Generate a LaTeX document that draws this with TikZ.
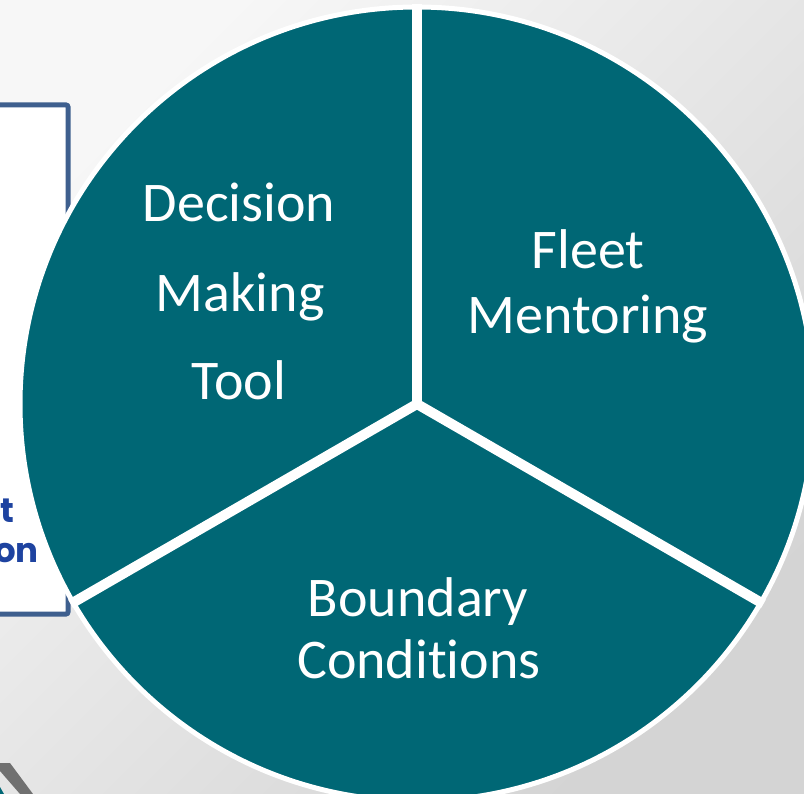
\documentclass[tikz,border=0pt]{standalone}
\usepackage{fontspec}
\usetikzlibrary{calc}
\setmainfont{Carlito}[Ligatures=NoCommon]
\newfontfamily\boxfont{Poppins}
\definecolor{pieteal}{HTML}{006775}
\definecolor{bglight}{HTML}{F7F7F7}
\definecolor{bgdark}{HTML}{D4D4D4}
\definecolor{boxedge}{HTML}{3E5F8E}
\definecolor{boxtext}{HTML}{1E43A0}
\definecolor{ringgray}{HTML}{707070}
\tikzset{
  slicelabel/.style={text=white, inner sep=0pt, anchor=base,
    font=\fontsize{56}{60}\selectfont},
  boxlabel/.style={text=boxtext, inner sep=0pt, anchor=base east,
    font=\boxfont\bfseries\fontsize{34}{40}\selectfont},
  divider/.style={draw=white, line width=10pt},
}
\begin{document}
\begin{tikzpicture}[x=1pt,y=-1pt]
  % page and background
  \useasboundingbox (0,0) rectangle (804,794);
  \shade[shading=axis, top color=bglight, bottom color=bgdark, shading angle=45]
    (0,0) rectangle (804,794);

  % ring fragment at the lower left
  \fill[ringgray] (0,763) -- (10,763) -- (33,794) -- (20,794) -- (0,771) -- cycle;
  \fill[pieteal] (0,787) -- (4,794) -- (0,794) -- cycle;

  % framed panel behind the pie
  \draw[line width=5pt, draw=boxedge, fill=white, rounded corners=2pt]
    (-20,105) rectangle (68,614);
  \node[boxlabel] (boxA) at (15,522) {t};
  \node[boxlabel] (boxB) at (39,562) {on};

  % pie
  \coordinate (c) at (417,404);
  \fill[pieteal] (c) circle[radius=397];
  \draw[white, line width=5pt] (c) circle[radius=397];
  \coordinate (e1) at ($(c)+(0,-400)$);
  \coordinate (e2) at ($(c)+(-346.4,200)$);
  \coordinate (e3) at ($(c)+(346.4,200)$);
  \draw[divider] (c) -- (e1);
  \draw[divider] (c) -- (e2);
  \draw[divider] (c) -- (e3);
  \fill[white] (c) circle[radius=5];

  % slice labels
  \node[slicelabel] (dec1) at (239,222) {Decision};
  \node[slicelabel] (dec2) at (240,312) {Making};
  \node[slicelabel] (dec3) at (239,400) {Tool};
  \node[slicelabel] (fm1) at (588,269) {Fleet};
  \node[slicelabel] (fm2) at (588,334) {Mentoring};
  \node[slicelabel] (bc1) at (418,616) {Boundary};
  \node[slicelabel] (bc2) at (419,678) {Conditions};
\end{tikzpicture}
\end{document}
